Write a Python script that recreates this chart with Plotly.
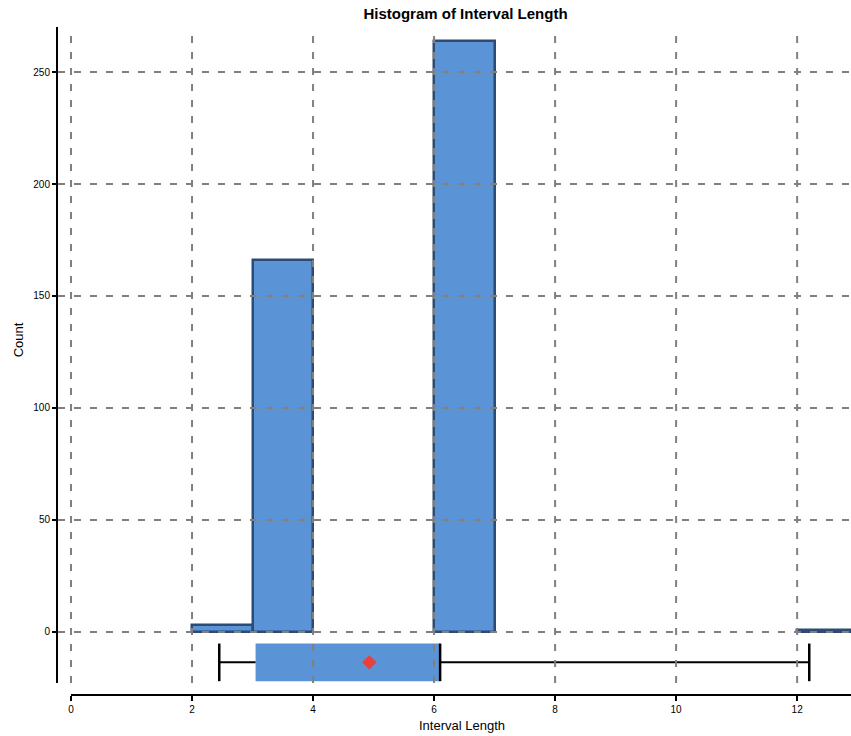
import plotly.graph_objects as go

# Histogram data (bin left edges, bin width 1)
bin_left = [2, 3, 6, 12]
counts = [3, 166, 264, 1]
bin_width = 1

# Box plot summary statistics
lower_whisker = 2.45
q1 = 3.05
median = 6.1
q3 = 6.1
upper_whisker = 12.2
mean_val = 4.93

x_ticks = [0, 2, 4, 6, 8, 10, 12]
y_ticks = [0, 50, 100, 150, 200, 250]

x_range = [-0.215, 12.89]
y_range = [-22.8, 270.1]

box_y = -13.6
box_half = 8.4

fill_col = "#5B93D7"
edge_col = "#2D4B73"
grid_dash = "7px,9px"

fig = go.Figure()

fig.add_trace(go.Bar(
    x=[b + bin_width / 2 for b in bin_left], y=counts, width=bin_width,
    marker=dict(color=fill_col, line=dict(color=edge_col, width=2.5)),
    showlegend=False, hoverinfo="x+y"))

# Box rectangle
fig.add_trace(go.Scatter(
    x=[q1, q3, q3, q1, q1],
    y=[box_y - box_half, box_y - box_half, box_y + box_half, box_y + box_half, box_y - box_half],
    fill="toself", fillcolor=fill_col, line=dict(width=0), mode="lines",
    showlegend=False, hoverinfo="skip"))
# Whiskers
fig.add_trace(go.Scatter(
    x=[lower_whisker, q1, None, q3, upper_whisker], y=[box_y] * 5,
    mode="lines", line=dict(color="black", width=2), showlegend=False, hoverinfo="skip"))
# Caps and median
for xv in [lower_whisker, upper_whisker, median]:
    fig.add_trace(go.Scatter(
        x=[xv, xv], y=[box_y - box_half, box_y + box_half],
        mode="lines", line=dict(color="black", width=2.5), showlegend=False, hoverinfo="skip"))
# Mean
fig.add_trace(go.Scatter(
    x=[mean_val], y=[box_y], mode="markers",
    marker=dict(symbol="diamond", color="#E8403A", size=11),
    showlegend=False))

shapes = []
for xv in x_ticks:
    shapes.append(dict(type="line", xref="x", yref="y", x0=xv, x1=xv, y0=y_range[0], y1=y_range[1],
                       line=dict(color="#808080", width=2, dash=grid_dash), layer="above"))
for yv in y_ticks:
    shapes.append(dict(type="line", xref="x", yref="y", x0=x_range[0], x1=x_range[1], y0=yv, y1=yv,
                       line=dict(color="#808080", width=2, dash=grid_dash), layer="above"))
# x axis line offset below plot
shapes.append(dict(type="line", xref="x", yref="paper", x0=0, x1=x_range[1], y0=0, y1=0,
                   line=dict(color="black", width=2), layer="above"))

annotations = [
    dict(text="Interval Length", xref="paper", yref="paper", x=0.51, y=0, yshift=-30,
         xanchor="center", yanchor="middle", showarrow=False, font=dict(size=13)),
    dict(text="Count", xref="paper", yref="paper", x=0, xshift=-40, y=0.531,
         xanchor="center", yanchor="middle", textangle=-90, showarrow=False, font=dict(size=13)),
]

fig.update_layout(
    width=851, height=736,
    margin=dict(l=58, r=0, t=27, b=41, autoexpand=False),
    plot_bgcolor="white", paper_bgcolor="white",
    font=dict(family="Liberation Sans, Arial, sans-serif", color="black"),
    title=dict(text="<b>Histogram of Interval Length</b>", x=0.547, xanchor="center",
               y=0.981, yanchor="middle", font=dict(size=15)),
    shapes=shapes,
    annotations=annotations,
    bargap=0,
    xaxis=dict(range=x_range, tickvals=x_ticks, showgrid=False, zeroline=False,
               showline=False, ticks="outside", ticklen=5, tickwidth=2, tickcolor="black",
               tickfont=dict(size=10), anchor="free", position=0, automargin=False),
    yaxis=dict(range=y_range, tickvals=y_ticks, showgrid=False, zeroline=False,
               showline=True, linecolor="black", linewidth=2,
               ticks="outside", ticklen=4, tickwidth=2, tickcolor="black",
               tickfont=dict(size=10), domain=[0.018, 1], automargin=False),
)

fig.write_html("out.html", config={"displayModeBar": False},
               post_script="document.body.style.margin='0';document.body.style.overflow='hidden';")
